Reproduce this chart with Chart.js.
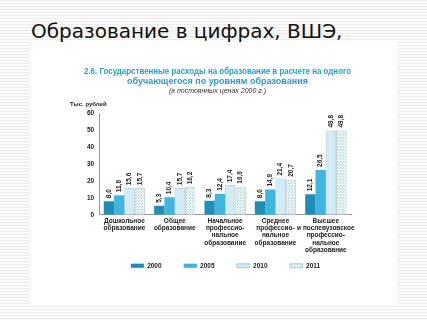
<!DOCTYPE html>
<html>
<head>
<meta charset="utf-8">
<script src="https://cdn.jsdelivr.net/npm/chart.js@4"></script>
<style>
  html, body { margin: 0; padding: 0; }
  body {
    width: 427px; height: 320px; overflow: hidden; position: relative;
    background: repeating-linear-gradient(to bottom, #ececec 0px, #ececec 1px, #fbfbfb 1px, #fbfbfb 3px);
  }
  #heading {
    position: absolute; left: 31px; top: 19px;
    font-family: "DejaVu Sans", sans-serif; font-size: 20px; color: #111;
    white-space: nowrap;
  }
  #panel {
    position: absolute; left: 30px; top: 42px; width: 367px; height: 263px;
    background: #fff;
  }
</style>
</head>
<body>
<div id="heading">Образование в цифрах, ВШЭ,</div>
<div id="panel"><canvas id="myChart" width="367" height="263"></canvas></div>
<script>
// data
const categories = [
  ['Дошкольное', 'образование'],
  ['Общее', 'образование'],
  ['Начальное', 'профессио-', 'нальное', 'образование'],
  ['Среднее', 'профессио-', 'нальное', 'образование'],
  ['Высшее', 'и послевузовское', 'профессио-', 'нальное', 'образование']
];
const years = ['2000', '2005', '2010', '2011'];
const values2000 = [8.0, 5.3, 8.3, 8.0, 12.1];
const values2005 = [11.6, 10.4, 12.4, 14.9, 26.5];
const values2010 = [15.6, 15.7, 17.4, 21.4, 49.8];
const values2011 = [15.7, 16.2, 16.6, 20.7, 49.8];
const yTicks = [0, 10, 20, 30, 40, 50, 60];

const FONT = '"Liberation Sans", Arial, sans-serif';

// dotted fill for 2011
function dotPattern() {
  const c = document.createElement('canvas');
  c.width = 3; c.height = 3;
  const g = c.getContext('2d');
  g.fillStyle = '#e6f3f2';
  g.fillRect(0, 0, 3, 3);
  g.fillStyle = '#b9d9d6';
  g.fillRect(0, 0, 1, 1);
  g.fillRect(1, 2, 1, 1);
  return g.createPattern(c, 'repeat');
}

const valueLabels = {
  id: 'valueLabels',
  afterDatasetsDraw(chart) {
    const ctx = chart.ctx;
    ctx.save();
    ctx.font = 'bold 6.5px ' + FONT;
    ctx.fillStyle = '#222';
    ctx.textAlign = 'left';
    ctx.textBaseline = 'middle';
    chart.data.datasets.forEach(function(ds, i) {
      chart.getDatasetMeta(i).data.forEach(function(bar, j) {
        ctx.save();
        ctx.translate(bar.x, bar.y - 3);
        ctx.rotate(-Math.PI / 2);
        ctx.fillText(ds.data[j].toFixed(1).replace('.', ','), 0, 0);
        ctx.restore();
      });
    });
    ctx.restore();
  }
};

const unitLabel = {
  id: 'unitLabel',
  afterLayout(chart) {
    // nudge legend row to the right a bit
    chart.legend.left += 8;
    chart.legend.right += 8;
  },
  afterDraw(chart) {
    const ctx = chart.ctx;
    ctx.save();
    ctx.font = 'bold 6px ' + FONT;
    ctx.fillStyle = '#222';
    ctx.textBaseline = 'middle';
    ctx.fillText('Тыс. рублей', 40, 62);
    ctx.restore();
  }
};

const ctx = document.getElementById('myChart').getContext('2d');
const myChart = new Chart(ctx, {
  type: 'bar',
  data: {
    labels: categories,
    datasets: [
      { label: years[0], data: values2000, backgroundColor: '#1f8fb8', borderWidth: 0 },
      { label: years[1], data: values2005, backgroundColor: '#42b5df', borderWidth: 0 },
      { label: years[2], data: values2010, backgroundColor: '#d3ebf5', borderColor: '#9cb3bb', borderWidth: 0.7 },
      { label: years[3], data: values2011, backgroundColor: dotPattern(), borderColor: '#9cb3bb', borderWidth: 0.7 }
    ]
  },
  options: {
    responsive: false,
    animation: false,
    devicePixelRatio: 1,
    layout: { padding: { left: 54, right: 46, top: 0, bottom: 26 } },
    datasets: { bar: { categoryPercentage: 0.82, barPercentage: 1 } },
    plugins: {
      title: {
        display: true,
        text: ['2.6. Государственные расходы на образование в расчете на одного',
               'обучающегося по уровням образования'],
        color: '#2d9cc4',
        font: { family: FONT, size: 9, weight: 'bold', lineHeight: 1.05 },
        padding: { top: 25, bottom: 0 }
      },
      subtitle: {
        display: true,
        text: '(в постоянных ценах 2000 г.)',
        color: '#333',
        font: { family: FONT, size: 7, style: 'italic' },
        padding: { top: 1, bottom: 18 }
      },
      legend: {
        position: 'bottom',
        labels: {
          boxWidth: 13,
          boxHeight: 4,
          padding: 6,
          color: '#222',
          font: { family: FONT, size: 6.5, weight: 'bold' },
          generateLabels: function(chart) {
            const items = Chart.defaults.plugins.legend.labels.generateLabels(chart);
            items.forEach(function(it, i) {
              it.text = it.text + (i < items.length - 1 ? '\u2002\u2002\u2002\u2002\u2002' : '');
              it.lineWidth = 0.7;
            });
            return items;
          }
        }
      },
      tooltip: { enabled: false }
    },
    scales: {
      x: {
        grid: { display: false, drawTicks: false },
        border: { color: '#999' },
        ticks: {
          color: '#222',
          maxRotation: 0,
          autoSkip: false,
          padding: 3,
          font: { family: FONT, size: 6.5, weight: 'bold', lineHeight: 1.1 }
        }
      },
      y: {
        min: 0,
        max: 60,
        afterBuildTicks: function(axis) {
          axis.ticks = yTicks.map(function(v) { return { value: v }; });
        },
        grid: { display: false, drawTicks: true, tickLength: 2, color: '#999' },
        border: { color: '#999' },
        ticks: {
          color: '#222',
          padding: 3,
          font: { family: FONT, size: 6.5, weight: 'bold' }
        }
      }
    }
  },
  plugins: [valueLabels, unitLabel]
});
</script>
</body>
</html>
